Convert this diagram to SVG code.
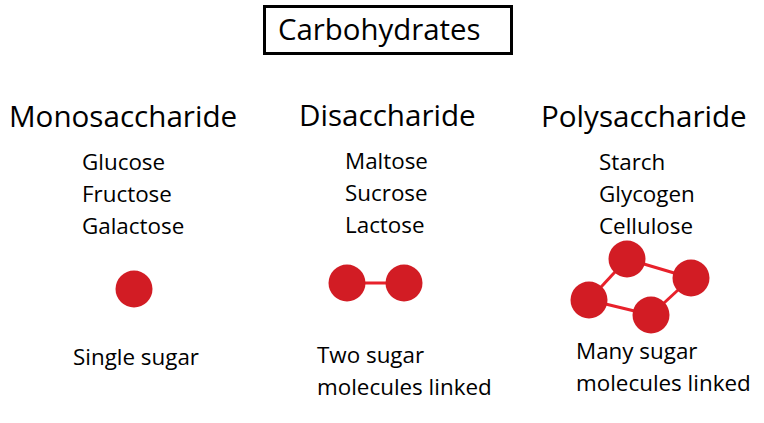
<svg xmlns="http://www.w3.org/2000/svg" width="764" height="423" viewBox="0 0 764 423">
<style>
text{font-family:"Open Sans","Noto Sans","DejaVu Sans",sans-serif;fill:#000}
.h{font-size:29.6px}
.t{font-size:22.4px}
.m{fill:#d21c24}
.l{stroke:#e8212b;stroke-width:3;fill:none}
</style>
<rect width="764" height="423" fill="#fff"/>
<g id="title">
<rect x="264.5" y="6.5" width="247" height="47" fill="#fff" stroke="#000" stroke-width="3"/>
<text x="278" y="40" style="font-size:29.4px">Carbohydrates</text>
</g>
<g id="mono">
<text class="h" x="9" y="127">Monosaccharide</text>
<text class="t" x="82" y="170">Glucose</text>
<text class="t" x="82" y="202">Fructose</text>
<text class="t" x="82" y="234">Galactose</text>
<circle class="m" cx="134" cy="289" r="18.5"/>
<text class="t" x="73" y="365">Single sugar</text>
</g>
<g id="connectors">
<line class="l" x1="347" y1="283" x2="404" y2="283"/>
<line class="l" x1="627" y1="259" x2="691" y2="278"/>
<line class="l" x1="627" y1="259" x2="589" y2="300"/>
<line class="l" x1="589" y1="300" x2="651" y2="315"/>
<line class="l" x1="651" y1="315" x2="691" y2="278"/>
</g>
<g id="di">
<text class="h" x="299" y="126">Disaccharide</text>
<text class="t" x="345" y="169">Maltose</text>
<text class="t" x="345" y="201">Sucrose</text>
<text class="t" x="345" y="233">Lactose</text>
<circle class="m" cx="347" cy="283" r="18.5"/>
<circle class="m" cx="404" cy="283" r="18.5"/>
<text class="t" x="317" y="363">Two sugar</text>
<text class="t" x="317" y="395">molecules linked</text>
</g>
<g id="poly">
<text class="h" x="541" y="127">Polysaccharide</text>
<text class="t" x="599" y="170">Starch</text>
<text class="t" x="599" y="202">Glycogen</text>
<text class="t" x="599" y="234">Cellulose</text>
<circle class="m" cx="627" cy="259" r="18.5"/>
<circle class="m" cx="691" cy="278" r="18.5"/>
<circle class="m" cx="589" cy="300" r="18.5"/>
<circle class="m" cx="651" cy="315" r="18.5"/>
<text class="t" x="576" y="359">Many sugar</text>
<text class="t" x="576" y="391">molecules linked</text>
</g>
</svg>
